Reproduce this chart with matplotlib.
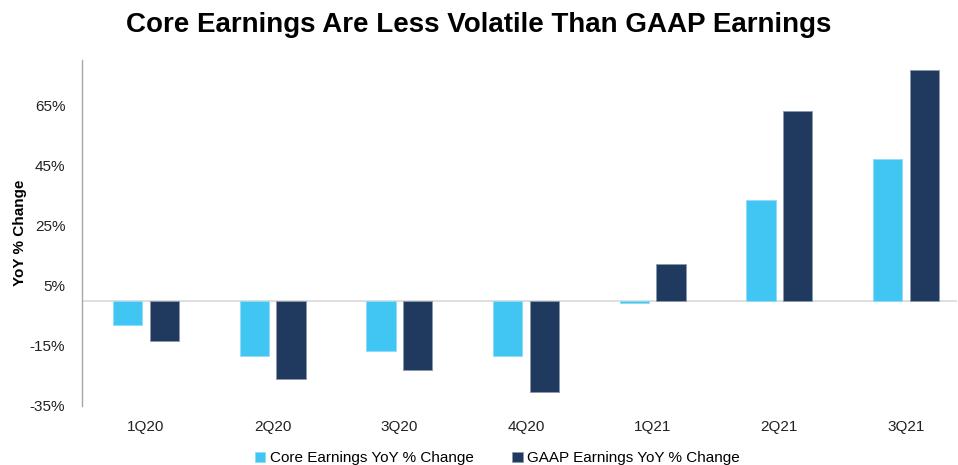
import numpy as np
import matplotlib.pyplot as plt

plt.rcParams['font.family'] = ['Liberation Sans', 'DejaVu Sans']

# Данные
quarters = ["1Q20", "2Q20", "3Q20", "4Q20", "1Q21", "2Q21", "3Q21"]
core_yoy = [-8.0, -18.5, -16.9, -18.5, -0.8, 33.5, 47.1]
gaap_yoy = [-13.3, -26.2, -23.2, -30.5, 12.2, 63.1, 76.6]
y_ticks = [-35, -15, 5, 25, 45, 65]

core_color = "#41C5F3"
gaap_color = "#1F3A5E"

fig = plt.figure(figsize=(9.58, 4.65), dpi=100)
ax = fig.add_axes([0.0856, 0.127, 0.913, 0.744])

x = np.arange(len(quarters))
w = 0.233
ax.bar(x - 0.145, core_yoy, w, color=core_color, edgecolor="#8FDDF8", linewidth=0.6,
       label="Core Earnings YoY % Change")
ax.bar(x + 0.145, gaap_yoy, w, color=gaap_color, edgecolor="#8A99AE", linewidth=0.6,
       label="GAAP Earnings YoY % Change")

ax.axhline(0, color="#d9d9d9", linewidth=1.2, zorder=0)
ax.set_xlim(-0.505, 6.4)
ax.set_ylim(-35, 80)
ax.set_yticks(y_ticks)
ax.set_yticklabels([f"{t}%" for t in y_ticks], fontsize=11, color="#222222")
ax.set_xticks(x)
ax.set_xticklabels(quarters, fontsize=11, color="#222222")
ax.tick_params(axis="y", length=0, pad=12)
ax.tick_params(axis="x", length=0, pad=10)

for s in ["top", "right", "bottom"]:
    ax.spines[s].set_visible(False)
ax.spines["left"].set_color("#a6a6a6")
ax.spines["left"].set_linewidth(1)

ax.set_ylabel("YoY % Change", fontsize=11, fontweight="bold")
ax.yaxis.set_label_coords(-0.063, 0.5)

fig.suptitle("Core Earnings Are Less Volatile Than GAAP Earnings",
             fontsize=20, fontweight="bold", x=0.5, y=0.975)

fig.legend(loc="lower center", bbox_to_anchor=(0.519, -0.03), ncol=2, frameon=False,
           fontsize=11, handlelength=0.7, handleheight=0.7, handletextpad=0.3,
           columnspacing=2.5)

fig.savefig("out.png", dpi=100)
